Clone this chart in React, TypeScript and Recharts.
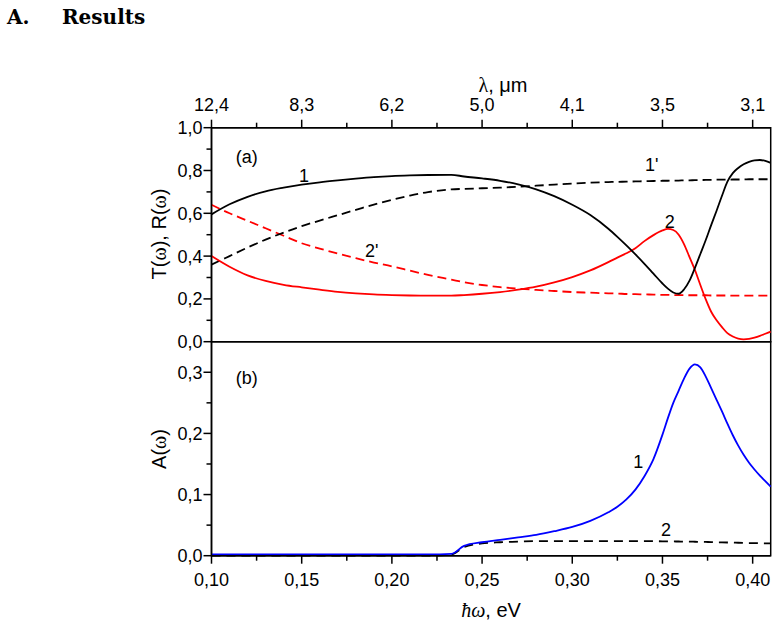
import React from "react";
import { LineChart, Line, XAxis, YAxis, ReferenceArea, ReferenceDot } from "recharts";

// photon energy grid, eV
const ev = [
  0.1, 0.11, 0.12, 0.13, 0.14, 0.15, 0.16, 0.17, 0.18, 0.19, 0.2, 0.21, 0.22, 0.233, 0.24, 0.25,
  0.26, 0.27, 0.28, 0.29, 0.3, 0.31, 0.32, 0.325, 0.33, 0.335, 0.34, 0.345, 0.35, 0.353, 0.356,
  0.359, 0.362, 0.365, 0.368, 0.371, 0.374, 0.377, 0.38, 0.383, 0.386, 0.389, 0.392, 0.395, 0.398,
  0.401, 0.404, 0.407, 0.41,
];

// (a) transmission / reflection
const t1 = [
  0.595, 0.642, 0.677, 0.703, 0.72, 0.734, 0.745, 0.754, 0.762, 0.769, 0.774, 0.777, 0.779, 0.78,
  0.772, 0.763, 0.752, 0.735, 0.712, 0.68, 0.64, 0.592, 0.528, 0.49, 0.45, 0.408, 0.364, 0.318,
  0.272, 0.248, 0.23, 0.224, 0.245, 0.285, 0.345, 0.41, 0.475, 0.545, 0.612, 0.682, 0.748, 0.788,
  0.812, 0.829, 0.84, 0.847, 0.849, 0.845, 0.836,
];
const t1p = [
  0.36, 0.4, 0.44, 0.477, 0.51, 0.54, 0.566, 0.591, 0.616, 0.641, 0.663, 0.683, 0.699, 0.712, 0.714,
  0.717, 0.72, 0.724, 0.729, 0.734, 0.739, 0.743, 0.746, 0.747, 0.748, 0.749, 0.75, 0.751, 0.752,
  0.752, 0.753, 0.753, 0.754, 0.754, 0.755, 0.755, 0.756, 0.756, 0.757, 0.757, 0.757, 0.758, 0.758,
  0.758, 0.759, 0.759, 0.759, 0.759, 0.759,
];
const r2 = [
  0.4, 0.35, 0.31, 0.284, 0.266, 0.254, 0.243, 0.233, 0.226, 0.221, 0.218, 0.216, 0.215, 0.215,
  0.218, 0.224, 0.232, 0.243, 0.257, 0.277, 0.302, 0.333, 0.372, 0.393, 0.413, 0.437, 0.47, 0.498,
  0.52, 0.527, 0.522, 0.5, 0.455, 0.395, 0.335, 0.265, 0.198, 0.14, 0.1, 0.068, 0.04, 0.024, 0.014,
  0.011, 0.013, 0.019, 0.027, 0.037, 0.047,
];
const r2p = [
  0.64, 0.6, 0.565, 0.53, 0.495, 0.46, 0.435, 0.412, 0.39, 0.37, 0.352, 0.332, 0.312, 0.29, 0.278,
  0.265, 0.255, 0.248, 0.242, 0.237, 0.232, 0.229, 0.226, 0.225, 0.223, 0.222, 0.221, 0.22, 0.219,
  0.219, 0.218, 0.218, 0.218, 0.217, 0.217, 0.217, 0.217, 0.216, 0.216, 0.216, 0.216, 0.215, 0.215,
  0.215, 0.215, 0.215, 0.215, 0.215, 0.215,
];

// (b) absorption
const a1 = [
  0.002, 0.002, 0.002, 0.002, 0.002, 0.002, 0.002, 0.002, 0.002, 0.002, 0.002, 0.002, 0.002, 0.003,
  0.016, 0.022, 0.026, 0.03, 0.034, 0.04, 0.047, 0.057, 0.071, 0.08, 0.092, 0.108, 0.13, 0.158,
  0.198, 0.225, 0.25, 0.27, 0.29, 0.306, 0.313, 0.308, 0.293, 0.274, 0.255, 0.236, 0.216, 0.197,
  0.18, 0.165, 0.152, 0.141, 0.131, 0.122, 0.113,
];
const a2 = [
  0, 0, 0, 0, 0, 0, 0, 0, 0, 0, 0, 0, 0, 0.002, 0.014, 0.02, 0.022, 0.023, 0.024, 0.024, 0.024,
  0.024, 0.024, 0.024, 0.024, 0.024, 0.024, 0.024, 0.0235, 0.0235, 0.0233, 0.0232, 0.023, 0.023,
  0.0228, 0.0226, 0.0225, 0.0223, 0.022, 0.0218, 0.0216, 0.0214, 0.0212, 0.021, 0.0208, 0.0206,
  0.0204, 0.0202, 0.02,
];

const xMajor = [0.1, 0.15, 0.2, 0.25, 0.3, 0.35, 0.4];
const xMinor = [0.125, 0.175, 0.225, 0.275, 0.325, 0.375];
const yTopMajor = [0, 0.2, 0.4, 0.6, 0.8, 1.0];
const yTopMinor = [0.1, 0.3, 0.5, 0.7, 0.9];
const yBotMajor = [0, 0.1, 0.2, 0.3];
const yBotMinor = [0.05, 0.15, 0.25];

const topData = ev.map((e, i) => ({ e, t1: t1[i], t1p: t1p[i], r2: r2[i], r2p: r2p[i] }));
const botData = ev.map((e, i) => ({ e, a1: a1[i], a2: a2[i] }));

const SANS = "'Liberation Sans', Arial, sans-serif";
const SERIF = "'Liberation Serif', 'Times New Roman', serif";
const FS = 18;
const TITLE_FS = 20;
const X_DOMAIN: [number, number] = [0.1, 0.41];

const comma = (v: number, d: number) => v.toFixed(d).replace(".", ",");
const isMajor = (v: number, list: number[]) => list.some((m) => Math.abs(m - v) < 1e-9);
// top axis shows wavelength, λ[µm] = 1.24 / E[eV]
const lambda = (e: number) => comma(1.24 / e, 1);

const BottomTick = (p: any) => {
  const { x, y, payload } = p;
  const major = isMajor(payload.value, xMajor);
  return (
    <g>
      <line x1={x} x2={x} y1={y} y2={y + (major ? 8 : 5)} stroke="#000" strokeWidth={1.5} />
      {major && (
        <text x={x} y={y + 30} textAnchor="middle" fontSize={FS} fontFamily={SANS} fill="#000">
          {comma(payload.value, 2)}
        </text>
      )}
    </g>
  );
};

const TopTick = (p: any) => {
  const { x, y, payload } = p;
  const major = isMajor(payload.value, xMajor);
  return (
    <g>
      <line x1={x} x2={x} y1={y} y2={y - (major ? 8 : 5)} stroke="#000" strokeWidth={1.5} />
      {major && (
        <text x={x} y={y - 16.5} textAnchor="middle" fontSize={FS} fontFamily={SANS} fill="#000">
          {lambda(payload.value)}
        </text>
      )}
    </g>
  );
};

const makeLeftTick = (majors: number[]) => (p: any) => {
  const { x, y, payload } = p;
  const major = isMajor(payload.value, majors);
  return (
    <g>
      <line x1={x} x2={x - (major ? 8 : 5)} y1={y} y2={y} stroke="#000" strokeWidth={1.5} />
      {major && (
        <text x={x - 9} y={y + 6.5} textAnchor="end" fontSize={FS} fontFamily={SANS} fill="#000">
          {comma(payload.value, 1)}
        </text>
      )}
    </g>
  );
};

const note = (value: string) => ({ value, position: "center" as const, fontSize: FS, fill: "#000", fontFamily: SANS });

function TopPanel() {
  return (
    <LineChart
      width={778}
      height={362}
      data={topData}
      margin={{ top: 87.7, left: 151.5, right: 7.3, bottom: 20.3 }}
    >
      <XAxis
        xAxisId="top"
        orientation="top"
        dataKey="e"
        type="number"
        domain={X_DOMAIN}
        ticks={[...xMajor, ...xMinor].sort((a, b) => a - b)}
        interval={0}
        height={40}
        tickSize={0}
        tickMargin={0}
        tickLine={false}
        tick={TopTick}
        axisLine={{ stroke: "#000", strokeWidth: 1.5 }}
      />
      <YAxis
        type="number"
        domain={[0, 1]}
        ticks={[...yTopMajor, ...yTopMinor].sort((a, b) => a - b)}
        interval={0}
        width={60}
        tickSize={0}
        tickMargin={0}
        tickLine={false}
        tick={makeLeftTick(yTopMajor)}
        axisLine={{ stroke: "#000", strokeWidth: 1.5 }}
      />
      <ReferenceArea xAxisId="top" x1={0.1} x2={0.41} y1={0} y2={1} fill="none" stroke="#000" strokeWidth={1.5} />
      <Line xAxisId="top" dataKey="r2p" type="monotone" stroke="#ff0000" strokeWidth={1.8} strokeDasharray="9 5" dot={false} activeDot={false} isAnimationActive={false} />
      <Line xAxisId="top" dataKey="t1p" type="monotone" stroke="#000" strokeWidth={1.8} strokeDasharray="9 5" dot={false} activeDot={false} isAnimationActive={false} />
      <Line xAxisId="top" dataKey="r2" type="monotone" stroke="#ff0000" strokeWidth={1.8} dot={false} activeDot={false} isAnimationActive={false} />
      <Line xAxisId="top" dataKey="t1" type="monotone" stroke="#000" strokeWidth={1.8} dot={false} activeDot={false} isAnimationActive={false} />
      <ReferenceDot xAxisId="top" x={0.1195} y={0.863} r={0} fill="none" stroke="none" label={note("(a)")} />
      <ReferenceDot xAxisId="top" x={0.1513} y={0.774} r={0} fill="none" stroke="none" label={note("1")} />
      <ReferenceDot xAxisId="top" x={0.344} y={0.826} r={0} fill="none" stroke="none" label={note("1'")} />
      <ReferenceDot xAxisId="top" x={0.354} y={0.561} r={0} fill="none" stroke="none" label={note("2")} />
      <ReferenceDot xAxisId="top" x={0.1888} y={0.424} r={0} fill="none" stroke="none" label={note("2'")} />
    </LineChart>
  );
}

function BottomPanel() {
  return (
    <LineChart
      width={778}
      height={627}
      data={botData}
      margin={{ top: 341.7, left: 151.5, right: 7.3, bottom: 21.3 }}
    >
      <XAxis
        dataKey="e"
        type="number"
        domain={X_DOMAIN}
        ticks={[...xMajor, ...xMinor].sort((a, b) => a - b)}
        interval={0}
        height={50}
        tickSize={0}
        tickMargin={0}
        tickLine={false}
        tick={BottomTick}
        axisLine={{ stroke: "#000", strokeWidth: 1.5 }}
      />
      <YAxis
        type="number"
        domain={[0, 0.35]}
        ticks={[...yBotMajor, ...yBotMinor].sort((a, b) => a - b)}
        interval={0}
        width={60}
        tickSize={0}
        tickMargin={0}
        tickLine={false}
        tick={makeLeftTick(yBotMajor)}
        axisLine={{ stroke: "#000", strokeWidth: 1.5 }}
      />
      <ReferenceArea x1={0.1} x2={0.41} y1={0} y2={0.35} fill="none" stroke="#000" strokeWidth={1.5} />
      <Line dataKey="a2" type="monotone" stroke="#000" strokeWidth={1.8} strokeDasharray="9 6" dot={false} activeDot={false} isAnimationActive={false} />
      <Line dataKey="a1" type="monotone" stroke="#0000ff" strokeWidth={1.8} dot={false} activeDot={false} isAnimationActive={false} />
      <ReferenceDot x={0.1195} y={0.291} r={0} fill="none" stroke="none" label={note("(b)")} />
      <ReferenceDot x={0.3366} y={0.1537} r={0} fill="none" stroke="none" label={note("1")} />
      <ReferenceDot x={0.352} y={0.0432} r={0} fill="none" stroke="none" label={note("2")} />
    </LineChart>
  );
}

export default function App() {
  return (
    <div style={{ position: "absolute", left: 0, top: 0, width: 778, height: 627, background: "#fff" }}>
      <div style={{ position: "absolute", left: 0, top: 0 }}>
        <TopPanel />
      </div>
      <div style={{ position: "absolute", left: 0, top: 0 }}>
        <BottomPanel />
      </div>
      <svg width={778} height={627} style={{ position: "absolute", left: 0, top: 0, pointerEvents: "none" }}>
        <text x={7} y={23.5} fontFamily="'DejaVu Serif', serif" fontWeight="bold" fontSize={20} fill="#000">A.</text>
        <text x={62} y={23.5} fontFamily="'DejaVu Serif', serif" fontWeight="bold" fontSize={20} fill="#000">Results</text>
        <text x={503} y={92} textAnchor="middle" fontFamily={SANS} fontSize={TITLE_FS} fill="#000">
          <tspan fontFamily={SERIF}>λ</tspan>, μm
        </text>
        <text x={491} y={617} textAnchor="middle" fontFamily={SANS} fontSize={TITLE_FS} fill="#000">
          <tspan fontFamily={SERIF} fontStyle="italic">ħω</tspan>, eV
        </text>
        <text transform="translate(166,234) rotate(-90)" textAnchor="middle" fontFamily={SANS} fontSize={TITLE_FS} fill="#000">
          T(<tspan fontFamily={SERIF}>ω</tspan>), R(<tspan fontFamily={SERIF}>ω</tspan>)
        </text>
        <text transform="translate(166,449) rotate(-90)" textAnchor="middle" fontFamily={SANS} fontSize={TITLE_FS} fill="#000">
          A(<tspan fontFamily={SERIF}>ω</tspan>)
        </text>
      </svg>
    </div>
  );
}
